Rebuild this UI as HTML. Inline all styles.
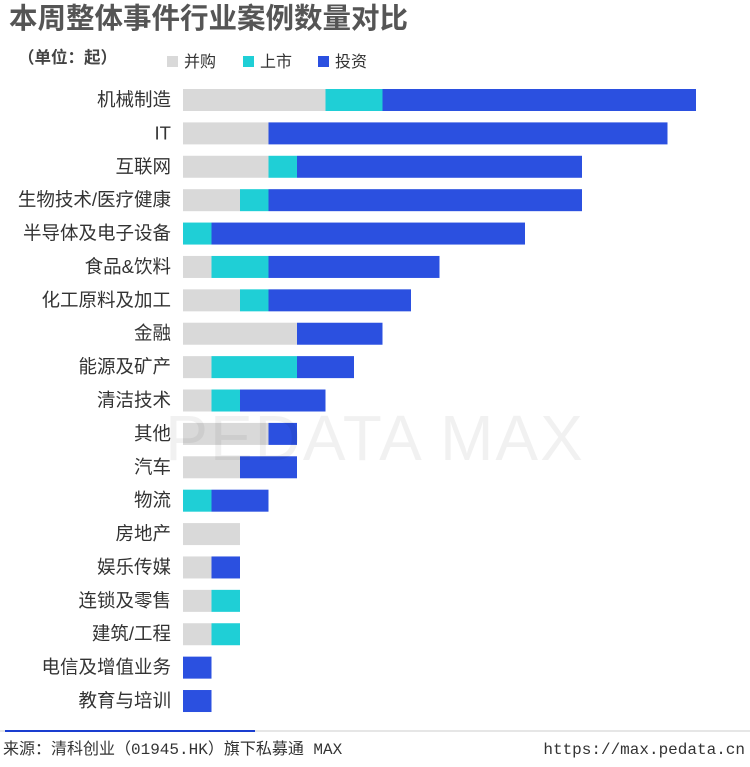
<!DOCTYPE html>
<html><head><meta charset="utf-8">
<style>
body{margin:0;background:#fff;width:750px;height:762px;overflow:hidden;font-family:"Liberation Sans","Noto Sans CJK SC",sans-serif;}
</style></head>
<body>
<svg id="chart" width="750" height="762" xmlns="http://www.w3.org/2000/svg">
<text x="9" y="28" font-size="28.5" font-weight="bold" fill="#555" font-family="Liberation Sans,Noto Sans CJK SC,sans-serif">本周整体事件行业案例数量对比</text>
<text x="18" y="63" font-size="16.5" font-weight="bold" fill="#444" font-family="Liberation Sans,Noto Sans CJK SC,sans-serif">（单位：起）</text>
<g id="legend"></g>
<g id="bars"></g>
<g id="labels"></g>
<text x="375" y="460" font-size="64" fill="#000" opacity="0.05" text-anchor="middle" font-family="Liberation Sans,sans-serif" letter-spacing="2">PEDATA MAX</text>
<line x1="0" y1="731" x2="750" y2="731" stroke="#ccc" stroke-width="1"/>
<line x1="5" y1="731" x2="255" y2="731" stroke="#1a3ed0" stroke-width="2"/>
<text x="3" y="754" font-size="16" fill="#333" font-family="Liberation Mono,Noto Sans CJK SC,monospace">来源：清科创业（01945.HK）旗下私募通 MAX</text>
<text x="745" y="754" font-size="16" fill="#333" text-anchor="end" font-family="Liberation Mono,monospace">https://max.pedata.cn</text>
</svg>
<script>
const categories=["机械制造","IT","互联网","生物技术/医疗健康","半导体及电子设备","食品&饮料","化工原料及加工","金融","能源及矿产","清洁技术","其他","汽车","物流","房地产","娱乐传媒","连锁及零售","建筑/工程","电信及增值业务","教育与培训"];
const seriesNames=["并购","上市","投资"];
const mergers=[5,3,3,2,0,1,2,4,1,1,3,2,0,2,1,1,1,0,0];
const ipos=[2,0,1,1,1,2,1,0,3,1,0,0,1,0,0,1,1,0,0];
const investments=[11,14,10,11,11,6,5,3,2,3,1,2,2,0,1,0,0,1,1];
const colors=["#d9d9d9","#1fcfd6","#2b50e0"];
const NS="http://www.w3.org/2000/svg";
const x0=183, unit=28.5, y0=100, step=33.39, bh=22;
const xs=v=>x0+v*unit;
const ys=i=>y0+i*step;
const bars=document.getElementById('bars'), labels=document.getElementById('labels'), legend=document.getElementById('legend');
const series=[mergers,ipos,investments];
categories.forEach((c,i)=>{
  let acc=0;
  series.forEach((s,k)=>{
    if(s[i]>0){
      const r=document.createElementNS(NS,'rect');
      r.setAttribute('x',xs(acc));r.setAttribute('y',ys(i)-bh/2);
      r.setAttribute('width',xs(acc+s[i])-xs(acc));r.setAttribute('height',bh);
      r.setAttribute('fill',colors[k]);
      
      
      bars.appendChild(r);
    }
    acc+=s[i];
  });
  const t=document.createElementNS(NS,'text');
  t.setAttribute('x',171);t.setAttribute('y',ys(i)+6);
  t.setAttribute('text-anchor','end');t.setAttribute('font-size','18.5');t.setAttribute('fill','#333');
  t.setAttribute('font-family','Liberation Sans,Noto Sans CJK SC,sans-serif');
  t.textContent=c;
  
  
  labels.appendChild(t);
});
const lx=[167,243,318];
seriesNames.forEach((n,k)=>{
  const r=document.createElementNS(NS,'rect');
  r.setAttribute('x',lx[k]);r.setAttribute('y',56);r.setAttribute('width',11);r.setAttribute('height',11);r.setAttribute('fill',colors[k]);
  
  
  legend.appendChild(r);
  const t=document.createElementNS(NS,'text');
  t.setAttribute('x',lx[k]+17);t.setAttribute('y',67);t.setAttribute('font-size','16');t.setAttribute('fill','#333');
  t.setAttribute('font-family','Liberation Sans,Noto Sans CJK SC,sans-serif');
  t.textContent=n;
  
  
  legend.appendChild(t);
});
</script>
</body></html>
